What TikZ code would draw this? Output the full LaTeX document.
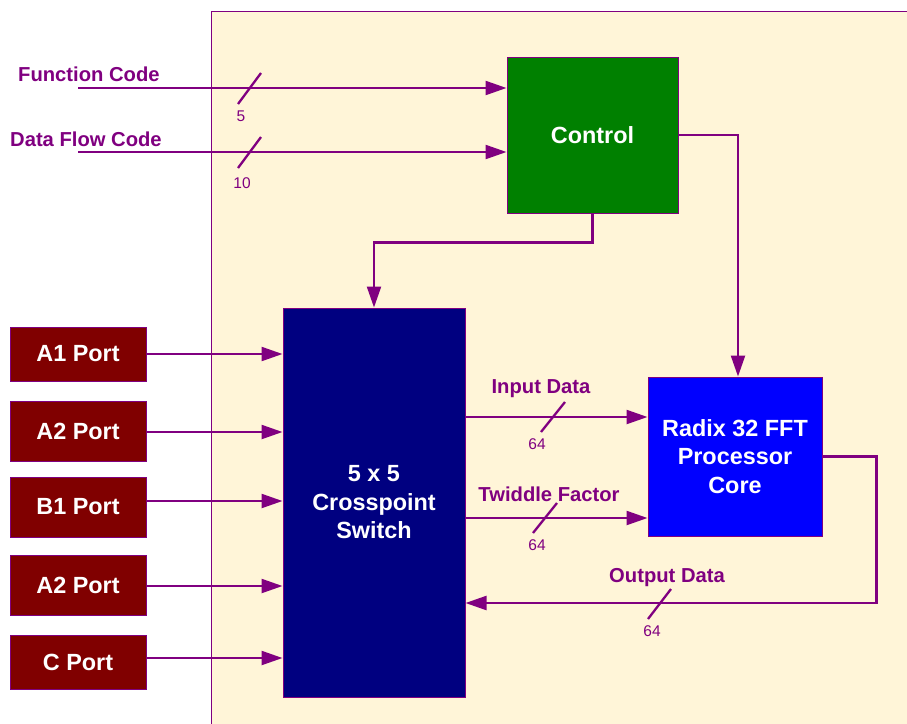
\documentclass[tikz,border=0pt]{standalone}
\usepackage{fontspec}
\setmainfont{Liberation Sans}
\usetikzlibrary{arrows.meta,calc}
\definecolor{lnpurple}{RGB}{128,0,128}
\definecolor{cream}{RGB}{255,245,216}
\definecolor{ctrlgreen}{RGB}{0,128,0}
\definecolor{swnavy}{RGB}{0,0,128}
\definecolor{coreblue}{RGB}{0,0,255}
\definecolor{portred}{RGB}{128,0,0}
\tikzset{
  blk/.style={draw=lnpurple, line width=1pt, inner sep=0pt, text=white,
    font=\fontsize{23.4}{28.5}\selectfont\bfseries, align=center},
  portbox/.style={blk, fill=portred, minimum width=136pt},
  arr/.style={draw=lnpurple, line width=2.3pt, -{Triangle[length=21pt,width=14pt]}},
  wire/.style={draw=lnpurple, line width=2.3pt},
  tick/.style={draw=lnpurple, line width=2.3pt},
  lbl/.style={text=lnpurple, font=\fontsize{20.2}{24}\selectfont\bfseries, inner sep=0pt},
  num/.style={text=lnpurple, font=\fontsize{15.5}{18}\selectfont, inner sep=0pt}
}
\begin{document}
\begin{tikzpicture}[x=1pt,y=-1pt]
\useasboundingbox (0,0) rectangle (907,723);
% background panel
\fill[cream] (211,11) rectangle (910,726);
\draw[lnpurple, line width=1pt] (211,726) -- (211,11) -- (910,11);

% blocks
\node[blk, fill=ctrlgreen, minimum width=171pt, minimum height=156pt] (ctrl) at (592.5,135) {Control};
\node[blk, fill=swnavy, minimum width=182pt, minimum height=389pt] (sw) at (374,502.5) {5 x 5\\Crosspoint\\Switch};
\node[blk, fill=coreblue, minimum width=174pt, minimum height=159pt] (core) at (735,456.5) {Radix 32 FFT\\Processor\\Core};

% ports
\node[portbox, minimum height=54pt] (a1) at (78,354) {A1 Port};
\node[portbox, minimum height=60pt] (a2) at (78,431) {A2 Port};
\node[portbox, minimum height=60pt] (b1) at (78,507) {B1 Port};
\node[portbox, minimum height=60pt] (a2b) at (78,585) {A2 Port};
\node[portbox, minimum height=54pt] (cp) at (78,662) {C Port};

\coordinate (ya1) at (0,354);
\coordinate (ya2) at (0,432);
\coordinate (yb1) at (0,501);
\coordinate (ya2b) at (0,586);
\coordinate (ycp) at (0,658);
\draw[arr] (a1.east |- ya1) -- (sw.west |- ya1);
\draw[arr] (a2.east |- ya2) -- (sw.west |- ya2);
\draw[arr] (b1.east |- yb1) -- (sw.west |- yb1);
\draw[arr] (a2b.east |- ya2b) -- (sw.west |- ya2b);
\draw[arr] (cp.east |- ycp) -- (sw.west |- ycp);

% control inputs
\coordinate (fc) at (78,88);
\coordinate (dfc) at (78,152);
\draw[arr] (fc) -- (ctrl.west |- fc);
\draw[arr] (dfc) -- (ctrl.west |- dfc);
\node[lbl, anchor=west] (fclbl) at (18,74) {Function Code};
\node[lbl, anchor=west] (dfclbl) at (10,139) {Data Flow Code};
\draw[tick] (238,104) -- (261,73);
\draw[tick] (238,168) -- (261,137);
\node[num] (n5) at (241,116) {5};
\node[num] (n10) at (242,183) {10};

% control to switch and core
\draw[arr] (ctrl.south) -- ++(0,29) -| (sw.north);
\coordinate (cx) at (738,0);
\draw[arr] (ctrl.east) -| (core.north -| cx);

% switch to core
\coordinate (yin) at (0,417);
\coordinate (ytw) at (0,518);
\draw[arr] (sw.east |- yin) -- (core.west |- yin);
\draw[arr] (sw.east |- ytw) -- (core.west |- ytw);
\node[lbl] (inlbl) at (541,389) {Input Data};
\node[lbl] (twlbl) at (549,494) {Twiddle Factor};
\draw[tick] (541,432) -- (565,402);
\draw[tick] (533,533) -- (557,503);
\node[num] (n64a) at (537,444) {64};
\node[num] (n64b) at (537,545) {64};

% output
\coordinate (yout) at (0,603);
\draw[arr] (core.east) -- ++(54,0) |- (sw.east |- yout);
\node[lbl] (outlbl) at (667,578) {Output Data};
\draw[tick] (648,619) -- (671,589);
\node[num] (n64c) at (652,631) {64};
\end{tikzpicture}
\end{document}
